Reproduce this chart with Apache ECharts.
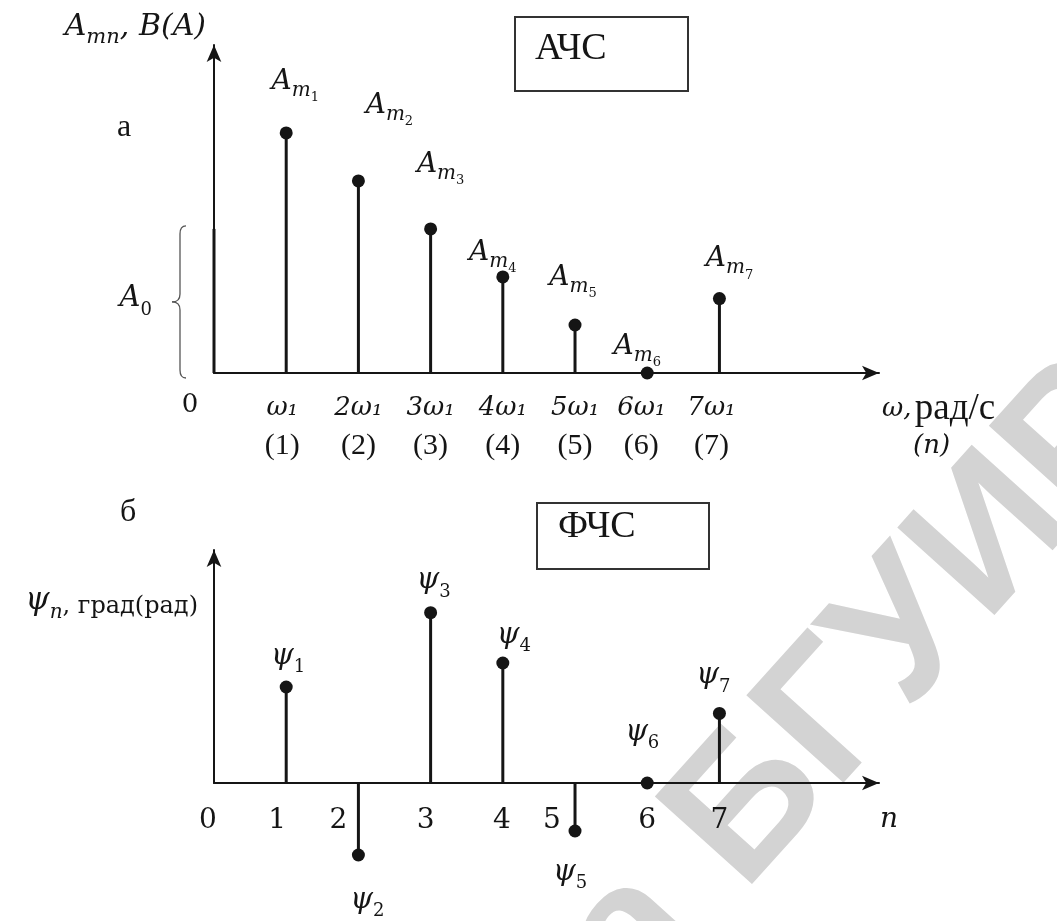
<!DOCTYPE html>
<html><head><meta charset="utf-8">
<script src="https://cdn.jsdelivr.net/npm/echarts@6/dist/echarts.min.js"></script>
<style>html,body{margin:0;padding:0;background:#fff}#c{width:1057px;height:921px}</style>
</head><body><div id="c"></div>
<script>
// ---------------- data ----------------
const harmonics = [1, 2, 3, 4, 5, 6, 7];
const constantA0 = 3;
const amplitudes = [5, 4, 3, 2, 1, 0, 1.55];
const phases = [4, -3, 7.1, 5, -2, 0, 2.9];
const omegaTickLabels = ['0', 'ω₁', '2ω₁', '3ω₁', '4ω₁', '5ω₁', '6ω₁', '7ω₁'];
const harmonicTickLabels = ['', '(1)', '(2)', '(3)', '(4)', '(5)', '(6)', '(7)'];
const phaseTickLabels = ['0', '1', '2', '3', '4', '5', '6', '7'];

// ---------------- layout / style ----------------
const MATH = "'DejaVu Serif'";
const TIMES = "'Liberation Serif'";
const INK = '#151515';
const xMax = 9.21;
const yMaxTop = 6.83;
const yMaxBottom = 9.71;
const ampLabelOffset = [[9,-47],[31,-71],[10,-60],[-10,-20],[-2,-43],[-10,-22],[10,-35]];
const phaseLabelOffset = [[2,-28],[9,48],[3,-29],[11,-25],[-5,44],[-5,-48],[-6,-35]];
const phaseTickShift = [-6,-9,-20,-5,-1,-23,0,0];
const topTickShift = [-24,-4,0,0,0,0,-6,-8];

const arrowLine = {onZero: false, symbol: ['none', 'arrow'], symbolSize: [11, 17], lineStyle: {color: INK, width: 2}};

function gapToken(shift) {
  return shift < 0 ? '{g' + (-shift) + '|\u00a0}' : '';
}
const gapRich = {};
for (let s = 1; s <= 30; s++) gapRich['g' + s] = {width: 2 * s, fontSize: 4};

const ampRich = {
  a: {fontFamily: MATH, fontStyle: 'italic', fontSize: 28, color: INK, padding: [0, 0, 9, 0], verticalAlign: 'top'},
  m: {fontFamily: MATH, fontStyle: 'italic', fontSize: 20, color: INK, padding: [0, 0, 4, 0], verticalAlign: 'bottom'},
  d: {fontFamily: MATH, fontSize: 13, color: INK, verticalAlign: 'bottom'}
};
const psiRich = {
  p: {fontFamily: MATH, fontStyle: 'italic', fontSize: 29, color: INK, padding: [0, 0, 6, 0], verticalAlign: 'top'},
  s: {fontFamily: MATH, fontSize: 18, color: INK, verticalAlign: 'bottom'}
};

const ampDots = harmonics.map((n, i) => ({
  value: [n, amplitudes[i]],
  label: {offset: ampLabelOffset[i]}
}));
const phaseDots = harmonics.map((n, i) => ({
  value: [n, phases[i]],
  label: {offset: phaseLabelOffset[i]}
}));
const ampStems = [[0, constantA0]].concat(harmonics.map((n, i) => [n, amplitudes[i]]));
const phaseStems = harmonics.map((n, i) => [n, phases[i]]);

const chart = echarts.init(document.getElementById('c'), null, {renderer: 'canvas'});

const option = {
  backgroundColor: '#fff',
  animation: false,
  title: [
    {text: 'АЧС', left: 515, top: 17, padding: [13, 82, 23, 20], borderColor: '#333', borderWidth: 2,
     textStyle: {fontFamily: TIMES, fontSize: 38, fontWeight: 'normal', color: INK, lineHeight: 38}},
    {text: 'ФЧС', left: 537, top: 503, padding: [5, 74, 23, 21], borderColor: '#333', borderWidth: 2,
     textStyle: {fontFamily: TIMES, fontSize: 38, fontWeight: 'normal', color: INK, lineHeight: 38}}
  ],
  grid: [
    {left: 214, right: 178, top: 45, bottom: 548},
    {left: 214, right: 178, top: 550, bottom: 138}
  ],
  xAxis: [
    {gridIndex: 0, type: 'value', min: 0, max: xMax, interval: 1,
     axisLine: arrowLine, axisTick: {show: false}, splitLine: {show: false},
     axisLabel: {
       margin: 17, showMaxLabel: false, showMinLabel: true,
       formatter: function (v) {
         const i = Math.round(v);
         if (i > 7 || Math.abs(v - i) > 1e-6) return '';
         const g = gapToken(topTickShift[i]);
         if (i === 0) return '{z|' + omegaTickLabels[0] + '}' + g;
         return '{w|' + omegaTickLabels[i] + '}' + g + '\n{p|' + harmonicTickLabels[i] + '}' + g;
       },
       rich: Object.assign({
         z: {fontFamily: MATH, fontSize: 26, color: INK, lineHeight: 30},
         w: {fontFamily: MATH, fontStyle: 'italic', fontSize: 26, color: INK, lineHeight: 36},
         p: {fontFamily: TIMES, fontSize: 30, color: INK, lineHeight: 40}
       }, gapRich)
     },
     name: '{w|ω,} {r|рад/с}\n{n|(n)}', nameLocation: 'end', nameGap: 3,
     nameTextStyle: {align: 'left', verticalAlign: 'top', padding: [18, 0, 0, 0],
       rich: {
         w: {fontFamily: MATH, fontStyle: 'italic', fontSize: 26, color: INK, lineHeight: 36},
         r: {fontFamily: TIMES, fontSize: 37, color: INK, lineHeight: 36},
         n: {fontFamily: MATH, fontStyle: 'italic', fontSize: 26, color: INK, lineHeight: 38, padding: [0, 0, 0, 31]}
       }}
    },
    {gridIndex: 1, type: 'value', min: 0, max: xMax, interval: 1,
     axisLine: arrowLine, axisTick: {show: false}, splitLine: {show: false},
     axisLabel: {
       margin: 22, showMaxLabel: false,
       formatter: function (v) {
         const i = Math.round(v);
         if (i > 7 || Math.abs(v - i) > 1e-6) return '';
         return '{t|' + phaseTickLabels[i] + '}' + gapToken(phaseTickShift[i]);
       },
       rich: Object.assign({t: {fontFamily: MATH, fontSize: 28, color: INK, lineHeight: 32}}, gapRich)
     },
     name: 'n', nameLocation: 'end', nameGap: 1,
     nameTextStyle: {fontFamily: MATH, fontStyle: 'italic', fontSize: 28, color: INK, align: 'left',
       verticalAlign: 'top', padding: [21, 0, 0, 0], lineHeight: 32}
    }
  ],
  yAxis: [
    {gridIndex: 0, type: 'value', min: 0, max: yMaxTop,
     axisLine: arrowLine, axisTick: {show: false}, axisLabel: {show: false}, splitLine: {show: false},
     name: '{a|A}{m|mn}{t|, B(A)}', nameLocation: 'end', nameGap: 15,
     nameTextStyle: {align: 'right', verticalAlign: 'middle', padding: [0, 8, 0, 0],
       rich: {
         a: {fontFamily: MATH, fontStyle: 'italic', fontSize: 30, color: INK, padding: [0, 0, 6, 0], verticalAlign: 'top'},
         m: {fontFamily: MATH, fontStyle: 'italic', fontSize: 21, color: INK, verticalAlign: 'bottom'},
         t: {fontFamily: MATH, fontStyle: 'italic', fontSize: 30, color: INK, padding: [0, 0, 6, 0], verticalAlign: 'top'}
       }}
    },
    {gridIndex: 1, type: 'value', min: 0, max: yMaxBottom,
     axisLine: arrowLine, axisTick: {show: false}, axisLabel: {show: false}, splitLine: {show: false},
     name: '{p|ψ}{s|n}{t|, град(рад)}', nameLocation: 'end', nameGap: -54,
     nameTextStyle: {align: 'right', verticalAlign: 'middle', padding: [0, 16, 0, 0],
       rich: {
         p: {fontFamily: MATH, fontStyle: 'italic', fontSize: 31, color: INK, padding: [0, 0, 6, 0], verticalAlign: 'top'},
         s: {fontFamily: MATH, fontStyle: 'italic', fontSize: 20, color: INK, verticalAlign: 'bottom'},
         t: {fontFamily: MATH, fontSize: 24, color: INK, padding: [0, 0, 4, 0], verticalAlign: 'bottom'}
       }}
    }
  ],
  series: [
    {type: 'bar', xAxisIndex: 0, yAxisIndex: 0, data: ampStems, barWidth: 3, clip: false,
     itemStyle: {color: INK}, z: 3},
    {type: 'scatter', xAxisIndex: 0, yAxisIndex: 0, data: ampDots, symbolSize: 13, clip: false,
     itemStyle: {color: INK, opacity: 1}, z: 4,
     label: {show: true, position: 'inside', align: 'center', verticalAlign: 'middle',
       formatter: p => '{a|A}{m|m}{d|' + p.value[0] + '}', rich: ampRich}},
    {type: 'bar', xAxisIndex: 1, yAxisIndex: 1, data: phaseStems, barWidth: 3, clip: false,
     itemStyle: {color: INK}, z: 3},
    {type: 'scatter', xAxisIndex: 1, yAxisIndex: 1, data: phaseDots, symbolSize: 13, clip: false,
     itemStyle: {color: INK, opacity: 1}, z: 4,
     label: {show: true, position: 'inside', align: 'center', verticalAlign: 'middle',
       formatter: p => '{p|ψ}{s|' + p.value[0] + '}', rich: psiRich}}
  ]
};
chart.setOption(option);

// Annotations derived from the axes: A0 brace and label, panel letters, watermark
const pTop = chart.convertToPixel({gridIndex: 0}, [0, constantA0]);
const pBase = chart.convertToPixel({gridIndex: 0}, [0, 0]);
const xb = pTop[0] - 34, xt = xb - 8;
const y1 = pTop[1] - 3, y2 = pBase[1] + 5, ym = (y1 + y2) / 2;
const braceStyle = {stroke: '#555', lineWidth: 1.3, fill: null};
const wmFont = 'bold 190px "Liberation Sans"';
chart.setOption({
  graphic: [
    {type: 'group', x: 634, y: 795, rotation: 48 * Math.PI / 180, z: -10, silent: true, children: [
      {type: 'text', style: {text: 'БГУИР', x: 0, y: 0, align: 'left', verticalAlign: 'top',
        font: wmFont, fill: '#d3d3d3'}},
      {type: 'text', style: {text: 'Библиотека ', x: 0, y: 0, align: 'right', verticalAlign: 'top',
        font: wmFont, fill: '#d3d3d3'}}
    ]},
    {type: 'bezierCurve', shape: {x1: xb + 6, y1: y1, x2: xb, y2: y1 + 8, cpx1: xb, cpy1: y1}, style: braceStyle},
    {type: 'line', shape: {x1: xb, y1: y1 + 8, x2: xb, y2: ym - 8}, style: braceStyle},
    {type: 'bezierCurve', shape: {x1: xb, y1: ym - 8, x2: xt, y2: ym, cpx1: xb, cpy1: ym}, style: braceStyle},
    {type: 'bezierCurve', shape: {x1: xt, y1: ym, x2: xb, y2: ym + 8, cpx1: xb, cpy1: ym}, style: braceStyle},
    {type: 'line', shape: {x1: xb, y1: ym + 8, x2: xb, y2: y2 - 8}, style: braceStyle},
    {type: 'bezierCurve', shape: {x1: xb, y1: y2 - 8, x2: xb + 6, y2: y2, cpx1: xb, cpy1: y2}, style: braceStyle},
    {type: 'text', style: {text: '{a|A}{s|0}', x: xt - 20, y: ym, align: 'right', verticalAlign: 'middle',
      rich: {a: {fontFamily: MATH, fontStyle: 'italic', fontSize: 29, fill: INK, padding: [0, 0, 6, 0], verticalAlign: 'top'},
             s: {fontFamily: MATH, fontSize: 18, fill: INK, verticalAlign: 'bottom'}}}},
    {type: 'text', style: {text: 'а', x: 117, y: 128, verticalAlign: 'middle', font: '32px "Liberation Serif"', fill: INK}},
    {type: 'text', style: {text: 'б', x: 120, y: 513, verticalAlign: 'middle', font: '32px "Liberation Serif"', fill: INK}}
  ]
});
</script></body></html>
